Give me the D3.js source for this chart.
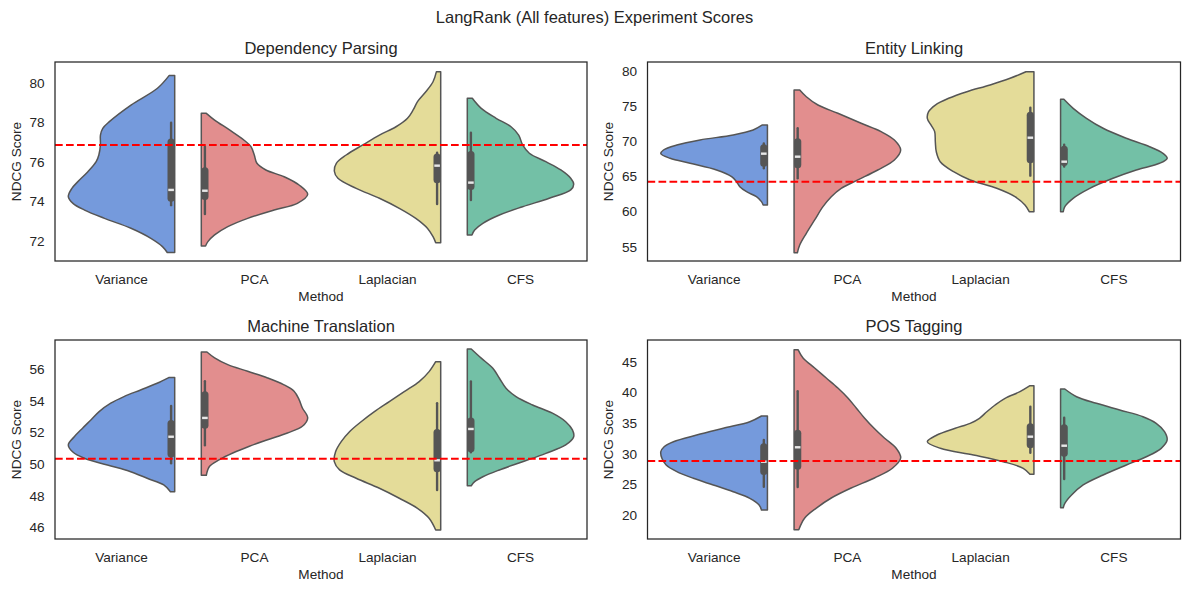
<!DOCTYPE html>
<html><head><meta charset="utf-8">
<script src="https://cdn.jsdelivr.net/npm/d3@7"></script>
<style>
body{margin:0;background:#fff}
svg{display:block}
text{font-family:"Liberation Sans",Arial,sans-serif;fill:#262626}
</style>
</head><body><script>
// ---------- data ----------
const methods = ["Variance", "PCA", "Laplacian", "CFS"];
const sides = ["left", "right", "left", "right"];
const colors = ["#759adc", "#e28e8e", "#e4dc99", "#73c0a6"];
const taskNames = ["Dependency Parsing", "Entity Linking", "Machine Translation", "POS Tagging"];
const baselines = [76.85, 64.25, 50.34, 28.8];
const yDomains = [[70.97, 81.05], [52.97, 81.28], [45.26, 57.85], [16.08, 48.54]];
const yTicks = [[72, 74, 76, 78, 80], [55, 60, 65, 70, 75, 80], [46, 48, 50, 52, 54, 56], [20, 25, 30, 35, 40, 45]];

// violin outlines: [score, relative density width]
const dpVariance = [[80.36,.053],[79.72,.162],[78.87,.411],[78.03,.614],[77.69,.676],[77.35,.698],[76.85,.698],[76.34,.713],[76.0,.738],[75.49,.816],[74.99,.91],[74.65,.966],[74.23,1.0],[73.89,.956],[73.55,.847],[73.13,.66],[72.63,.411],[72.12,.224],[71.70,.115],[71.40,.07]];
const dpPCA = [[78.45,.047],[78.11,.125],[77.61,.265],[77.10,.40],[76.76,.467],[76.34,.498],[75.92,.523],[75.58,.607],[75.24,.779],[74.82,.919],[74.35,1.0],[73.89,.903],[73.55,.685],[73.13,.436],[72.71,.249],[72.29,.125],[71.95,.062],[71.73,.04]];
const dpLaplacian = [[80.56,.04],[80.05,.072],[79.54,.14],[79.04,.218],[78.62,.259],[78.20,.312],[77.77,.42],[77.35,.576],[76.85,.732],[76.34,.888],[75.92,.981],[75.53,1.0],[75.16,.966],[74.65,.794],[74.15,.576],[73.64,.389],[73.13,.234],[72.63,.125],[72.20,.072],[71.90,.047]];
const dpCFS = [[79.21,.047],[78.70,.131],[78.20,.271],[77.77,.411],[77.35,.483],[76.85,.52],[76.43,.583],[76.0,.738],[75.58,.879],[75.16,.972],[74.86,1.0],[74.57,.972],[74.15,.77],[73.72,.52],[73.30,.302],[72.88,.146],[72.54,.069],[72.29,.044]];

const elVariance = [[72.32,.047],[71.61,.134],[70.90,.321],[70.19,.632],[69.47,.85],[68.76,.975],[68.24,1.0],[67.58,.913],[66.87,.726],[65.92,.477],[64.97,.336],[64.25,.29],[63.54,.259],[62.83,.196],[62.12,.103],[61.41,.056],[60.94,.04]];
const elPCA = [[77.30,.053],[76.34,.115],[75.16,.224],[73.98,.411],[72.56,.629],[71.37,.816],[70.18,.941],[68.76,1.0],[67.34,.941],[65.92,.785],[64.50,.598],[63.31,.442],[62.12,.349],[60.70,.271],[58.81,.193],[56.91,.115],[55.25,.053],[54.15,.031]];
const elLaplacian = [[79.9,.075],[78.96,.224],[78.01,.411],[77.06,.629],[76.12,.80],[75.16,.925],[74.21,.988],[73.27,1.0],[72.32,.966],[71.37,.931],[69.94,.925],[68.52,.916],[67.10,.879],[65.68,.754],[64.50,.598],[63.31,.349],[62.12,.178],[60.94,.084],[59.99,.044]];
const elCFS = [[75.97,.031],[74.69,.118],[73.27,.243],[71.85,.399],[70.43,.617],[69.23,.835],[68.29,.96],[67.58,1.0],[66.87,.928],[65.92,.71],[64.74,.492],[63.31,.274],[61.89,.118],[60.70,.04],[59.99,.025]];

const mtVariance = [[55.47,.056],[55.11,.165],[54.69,.321],[54.27,.477],[53.85,.601],[53.32,.71],[52.79,.788],[52.27,.866],[51.73,.944],[51.21,1.0],[50.78,.96],[50.37,.85],[49.94,.632],[49.52,.414],[49.10,.259],[48.68,.103],[48.25,.04]];
const mtPCA = [[57.09,.053],[56.72,.125],[56.29,.249],[55.87,.436],[55.45,.623],[55.03,.773],[54.61,.872],[54.08,.919],[53.55,.95],[52.92,1.0],[52.39,.95],[51.97,.81],[51.54,.623],[51.13,.452],[50.70,.296],[50.28,.171],[49.86,.078],[49.29,.047]];
const mtLaplacian = [[56.48,.047],[55.85,.109],[55.22,.202],[54.58,.343],[53.95,.483],[53.32,.623],[52.68,.748],[52.05,.857],[51.42,.935],[50.78,.988],[50.15,1.0],[49.63,.95],[49.10,.794],[48.47,.576],[47.84,.389],[47.20,.218],[46.57,.109],[45.83,.047]];
const mtCFS = [[57.28,.037],[56.70,.131],[56.06,.24],[55.43,.302],[54.80,.364],[54.27,.458],[53.74,.614],[53.22,.80],[52.68,.925],[52.16,.988],[51.73,1.0],[51.21,.925],[50.68,.738],[50.15,.52],[49.63,.302],[49.20,.146],[48.89,.069],[48.63,.037]];

const posVariance = [[36.14,.056],[35.21,.165],[34.14,.414],[33.04,.664],[31.95,.882],[31.13,.969],[30.32,1.0],[29.24,.99],[28.15,.95],[27.06,.85],[25.98,.695],[24.89,.508],[23.79,.321],[22.72,.165],[21.62,.078],[20.81,.056]];
const posPCA = [[46.96,.037],[45.60,.084],[43.97,.193],[42.34,.302],[40.71,.411],[39.08,.505],[37.45,.583],[35.82,.66],[34.18,.748],[32.55,.847],[30.92,.956],[29.29,1.0],[27.66,.925],[26.03,.754],[24.40,.536],[22.77,.349],[21.13,.209],[19.50,.10],[17.59,.044]];
const posLaplacian = [[41.08,.037],[40.11,.131],[39.03,.271],[37.94,.364],[36.84,.442],[35.77,.511],[34.95,.598],[34.14,.738],[33.04,.91],[31.95,1.0],[30.87,.878],[29.78,.567],[28.69,.287],[27.61,.1],[26.63,.037]];
const posCFS = [[40.55,.04],[39.29,.15],[38.21,.336],[37.12,.555],[36.03,.773],[34.95,.897],[33.58,.975],[32.23,1.0],[30.87,.944],[29.50,.804],[28.15,.617],[26.52,.399],[24.89,.212],[23.25,.103],[21.90,.04],[21.18,.025]];

// inner boxes: [whisker low, q1, median, q3, whisker high]
const dpBoxes = [[73.8,73.97,74.57,77.18,77.97],[73.35,74.06,74.53,75.72,76.76],[73.86,74.91,75.80,76.41,76.45],[74.06,74.57,74.94,76.54,77.47]];
const elBoxes = [[66.16,66.39,68.24,69.57,69.7],[64.74,66.16,67.81,70.43,71.85],[65.11,66.87,70.51,74.21,74.78],[66.4,66.49,67.10,69.37,69.5]];
const mtBoxes = [[50.05,50.41,51.73,52.79,53.68],[51.19,52.24,52.92,54.61,55.24],[48.36,49.48,50.24,52.22,53.85],[50.75,50.75,52.22,52.94,55.22]];
const posBoxes = [[24.61,26.52,28.69,31.69,32.23],[24.56,27.38,31.04,33.91,40.17],[30.16,30.87,32.77,34.95,37.66],[25.86,29.50,31.30,34.79,35.86]];

const violins = [
  [dpVariance, dpPCA, dpLaplacian, dpCFS],
  [elVariance, elPCA, elLaplacian, elCFS],
  [mtVariance, mtPCA, mtLaplacian, mtCFS],
  [posVariance, posPCA, posLaplacian, posCFS]
];
const boxes = [dpBoxes, elBoxes, mtBoxes, posBoxes];

// ---------- layout ----------
const W = 1189, H = 592;
const cols = [[55, 587], [647.5, 1180.5]];
const rows = [[62, 261], [340, 539]];
const tickFont = 13.6, titleFont = 16.5;
const lineColor = "#555555";

const svg = d3.select("body").append("svg").attr("width", W).attr("height", H);

svg.append("text").attr("x", W / 2).attr("y", 22.5).attr("text-anchor", "middle")
  .style("font-size", titleFont + "px").text("LangRank (All features) Experiment Scores");

taskNames.forEach((task, i) => {
  const [x0, x1] = cols[i % 2];
  const [y0, y1] = rows[Math.floor(i / 2)];
  const g = svg.append("g");
  const x = d3.scaleBand().domain(methods).range([x0, x1]).padding(0);
  const y = d3.scaleLinear().domain(yDomains[i]).range([y1, y0]);
  const bw = x.bandwidth();
  const maxW = 0.8 * bw;

  methods.forEach((m, j) => {
    const c = x(m) + bw / 2;
    const dir = sides[j] === "left" ? -1 : 1;
    const flat = c - dir * 0.4 * bw;
    const area = d3.area()
      .y(d => y(d[0]))
      .x0(() => flat)
      .x1(d => flat + dir * d[1] * maxW)
      .curve(d3.curveCatmullRom.alpha(0.5));
    g.append("path").attr("d", area(violins[i][j]))
      .attr("fill", colors[j]).attr("stroke", lineColor)
      .attr("stroke-width", 1.5).attr("stroke-linejoin", "round");

    const [lo, q1, med, q3, hi] = boxes[i][j];
    const bx = flat + dir * 3.6;
    g.append("line").attr("x1", bx).attr("x2", bx).attr("y1", y(lo)).attr("y2", y(hi))
      .attr("stroke", lineColor).attr("stroke-width", 2.4).attr("stroke-linecap", "round");
    g.append("rect").attr("x", bx - 3.6).attr("width", 7.2)
      .attr("y", y(q3)).attr("height", Math.max(y(q1) - y(q3), 1))
      .attr("rx", 3.5).attr("ry", 3.5).attr("fill", lineColor);
    g.append("rect").attr("x", bx - 2.8).attr("width", 5.6)
      .attr("y", y(med) - 1.2).attr("height", 2.4).attr("fill", "#e8e8e8");
  });

  // baseline
  g.append("line").attr("x1", x0).attr("x2", x1)
    .attr("y1", y(baselines[i])).attr("y2", y(baselines[i]))
    .attr("stroke", "red").attr("stroke-width", 2).attr("stroke-dasharray", "7.7,3.3");

  // frame
  g.append("rect").attr("x", x0).attr("y", y0).attr("width", x1 - x0).attr("height", y1 - y0)
    .attr("fill", "none").attr("stroke", "#262626").attr("stroke-width", 1.25);

  // axes
  const ya = g.append("g").attr("transform", `translate(${x0},0)`)
    .call(d3.axisLeft(y).tickValues(yTicks[i]).tickSize(0).tickPadding(10.5));
  ya.select(".domain").remove();
  ya.selectAll("text").style("font-size", tickFont + "px").attr("fill", "#262626")
    .style("font-family", '"Liberation Sans",Arial,sans-serif');

  const xa = g.append("g").attr("transform", `translate(0,${y1})`)
    .call(d3.axisBottom(x).tickSize(0).tickPadding(13));
  xa.select(".domain").remove();
  xa.selectAll("text").style("font-size", tickFont + "px").attr("fill", "#262626")
    .style("font-family", '"Liberation Sans",Arial,sans-serif');

  g.append("text").attr("x", (x0 + x1) / 2).attr("y", y1 + 40).attr("text-anchor", "middle")
    .style("font-size", tickFont + "px").text("Method");
  g.append("text").attr("transform", `translate(${x0 - 34.3},${(y0 + y1) / 2}) rotate(-90)`)
    .attr("text-anchor", "middle").style("font-size", tickFont + "px").text("NDCG Score");
  g.append("text").attr("x", (x0 + x1) / 2).attr("y", y0 - 8.3).attr("text-anchor", "middle")
    .style("font-size", titleFont + "px").text(task);
});
</script></body></html>
